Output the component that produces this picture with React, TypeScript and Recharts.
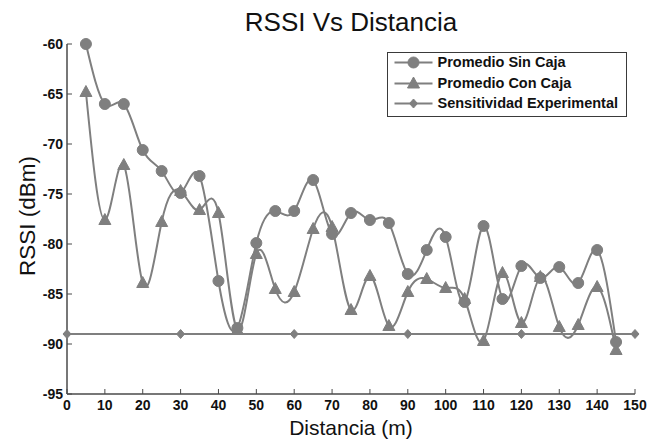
import React from 'react';
import { LineChart, Line, XAxis, YAxis, Legend, Label } from 'recharts';

const distances = [5, 10, 15, 20, 25, 30, 35, 40, 45, 50, 55, 60, 65, 70, 75, 80, 85, 90, 95, 100, 105, 110, 115, 120, 125, 130, 135, 140, 145];
const promedioSinCaja = [-60, -66, -66, -70.6, -72.7, -74.9, -73.2, -83.7, -88.4, -79.9, -76.7, -76.7, -73.6, -79, -76.9, -77.6, -77.9, -83, -80.6, -79.3, -85.8, -78.2, -85.5, -82.2, -83.4, -82.3, -83.9, -80.6, -89.8];
const promedioConCaja = [-64.8, -77.6, -72.1, -83.9, -77.8, -74.7, -76.6, -76.9, -88.6, -81, -84.5, -84.8, -78.5, -78.3, -86.6, -83.2, -88.2, -84.8, -83.5, -84.4, -85.5, -89.7, -82.9, -87.9, -83.3, -88.3, -88.1, -84.3, -90.6];
const sensDistances = [0, 30, 60, 90, 120, 150];
const sensitividad = [-89, -89, -89, -89, -89, -89];
const xTicks = [0, 10, 20, 30, 40, 50, 60, 70, 80, 90, 100, 110, 120, 130, 140, 150];
const yTicks = [-95, -90, -85, -80, -75, -70, -65, -60];
const seriesNames = ['Promedio Sin Caja', 'Promedio Con Caja', 'Sensitividad Experimental'];

const FONT = '"Liberation Sans", Arial, Helvetica, sans-serif';
const GRAY = '#7f7f7f';
const AXIS = '#4a4a4a';

const sinData = distances.map((x, i) => ({ x, y: promedioSinCaja[i] }));
const conData = distances.map((x, i) => ({ x, y: promedioConCaja[i] }));
const sensData = sensDistances.map((x, i) => ({ x, y: sensitividad[i] }));

type Shape = 'circle' | 'triangle' | 'diamond';

const shapeOf: Record<string, Shape> = {
  'Promedio Sin Caja': 'circle',
  'Promedio Con Caja': 'triangle',
  'Sensitividad Experimental': 'diamond',
};

function Marker({ cx, cy, shape }: { cx: number; cy: number; shape: Shape }) {
  if (shape === 'circle') {
    return <circle cx={cx} cy={cy} r={5.5} fill={GRAY} stroke={GRAY} strokeWidth={1} />;
  }
  if (shape === 'triangle') {
    const pts = `${cx},${cy - 6.5} ${cx - 6},${cy + 4.5} ${cx + 6},${cy + 4.5}`;
    return <polygon points={pts} fill={GRAY} stroke={GRAY} strokeWidth={1} />;
  }
  const pts = `${cx},${cy - 4.5} ${cx + 4},${cy} ${cx},${cy + 4.5} ${cx - 4},${cy}`;
  return <polygon points={pts} fill={GRAY} stroke={GRAY} strokeWidth={1} />;
}

const makeDot = (shape: Shape) => (props: any) => {
  const { cx, cy, index } = props;
  if (cx == null || cy == null) return <g key={`${shape}-${index}`} />;
  return (
    <g key={`${shape}-${index}`}>
      <Marker cx={cx} cy={cy} shape={shape} />
    </g>
  );
};

const renderLegend = (props: any) => {
  const payload = [...(props.payload || [])].sort(
    (a: any, b: any) => seriesNames.indexOf(a.value) - seriesNames.indexOf(b.value)
  );
  return (
    <div
      style={{
        width: 240,
        height: 65,
        boxSizing: 'border-box',
        border: '1.5px solid #3a3a3a',
        background: '#fff',
        position: 'relative',
        fontFamily: FONT,
      }}
    >
      {payload.map((p: any, i: number) => (
        <div
          key={i}
          style={{ position: 'absolute', left: 0, top: i * 20.5 - 1, height: 21, display: 'flex', alignItems: 'center' }}
        >
          <svg width={49.5} height={21} style={{ display: 'block' }}>
            <line x1={6.5} x2={44.5} y1={10.5} y2={10.5} stroke={GRAY} strokeWidth={2} />
            <Marker cx={25.5} cy={10.5} shape={shapeOf[p.value] || 'circle'} />
          </svg>
          <span style={{ fontSize: 14.5, fontWeight: 'bold', color: '#111', whiteSpace: 'nowrap', lineHeight: '21px' }}>
            {p.value}
          </span>
        </div>
      ))}
    </div>
  );
};

const tickStyle = { fontSize: 14, fontWeight: 'bold' as const, fill: '#111', fontFamily: FONT };

export default function App() {
  return (
    <div style={{ position: 'absolute', left: 0, top: 0, width: 648, height: 440, background: '#fff' }}>
      <div
        style={{
          position: 'absolute',
          left: 67,
          top: 9,
          width: 568,
          textAlign: 'center',
          fontFamily: FONT,
          fontSize: 26,
          lineHeight: '26px',
          color: '#111',
        }}
      >
        RSSI Vs Distancia
      </div>
      <LineChart width={648} height={440} margin={{ top: 44, right: 13, bottom: 0, left: 0 }}>
        <XAxis
          dataKey="x"
          type="number"
          domain={[0, 150]}
          ticks={xTicks}
          interval={0}
          height={46}
          tickSize={-5}
          tickMargin={11}
          tick={tickStyle}
          axisLine={{ stroke: AXIS, strokeWidth: 1.5 }}
          tickLine={{ stroke: AXIS, strokeWidth: 1 }}
        >
          <Label
            content={(p: any) => {
              const vb = p.viewBox || { x: 67, y: 394, width: 568 };
              return (
                <text x={vb.x + vb.width / 2} y={vb.y + 41} textAnchor="middle" fontFamily={FONT} fontSize={21} fill="#111">
                  Distancia (m)
                </text>
              );
            }}
          />
        </XAxis>
        <XAxis
          xAxisId="top"
          orientation="top"
          type="number"
          domain={[0, 150]}
          ticks={xTicks}
          interval={0}
          height={0}
          tick={false}
          tickSize={-5}
          axisLine={{ stroke: AXIS, strokeWidth: 1.5 }}
          tickLine={{ stroke: AXIS, strokeWidth: 1 }}
        />
        <YAxis
          type="number"
          domain={[-95, -60]}
          ticks={yTicks}
          interval={0}
          width={67}
          tickSize={-5}
          tickMargin={9}
          tick={tickStyle}
          axisLine={{ stroke: AXIS, strokeWidth: 1.5 }}
          tickLine={{ stroke: AXIS, strokeWidth: 1 }}
        >
          <Label
            content={(p: any) => {
              const vb = p.viewBox || { x: 0, y: 44, height: 350 };
              const cy = vb.y + vb.height / 2 - 3;
              return (
                <text x={35} y={cy} textAnchor="middle" transform={`rotate(-90, 35, ${cy})`} fontFamily={FONT} fontSize={22.5} fill="#111">
                  RSSI (dBm)
                </text>
              );
            }}
          />
        </YAxis>
        <YAxis
          yAxisId="right"
          orientation="right"
          type="number"
          domain={[-95, -60]}
          ticks={yTicks}
          interval={0}
          width={0}
          tick={false}
          tickSize={-5}
          axisLine={{ stroke: AXIS, strokeWidth: 1.5 }}
          tickLine={{ stroke: AXIS, strokeWidth: 1 }}
        />
        <Legend
          layout="horizontal"
          verticalAlign="middle"
          align="center"
          content={renderLegend}
          wrapperStyle={{ top: 52, left: 387, width: 240, height: 65 }}
        />
        <Line
          data={sinData}
          dataKey="y"
          name="Promedio Sin Caja"
          type="natural"
          stroke={GRAY}
          strokeWidth={2}
          dot={makeDot('circle')}
          activeDot={false}
          isAnimationActive={false}
        />
        <Line
          data={conData}
          dataKey="y"
          name="Promedio Con Caja"
          type="natural"
          stroke={GRAY}
          strokeWidth={2}
          dot={makeDot('triangle')}
          activeDot={false}
          isAnimationActive={false}
        />
        <Line
          data={sensData}
          dataKey="y"
          name="Sensitividad Experimental"
          type="linear"
          stroke={GRAY}
          strokeWidth={2}
          dot={makeDot('diamond')}
          activeDot={false}
          isAnimationActive={false}
        />
      </LineChart>
    </div>
  );
}
